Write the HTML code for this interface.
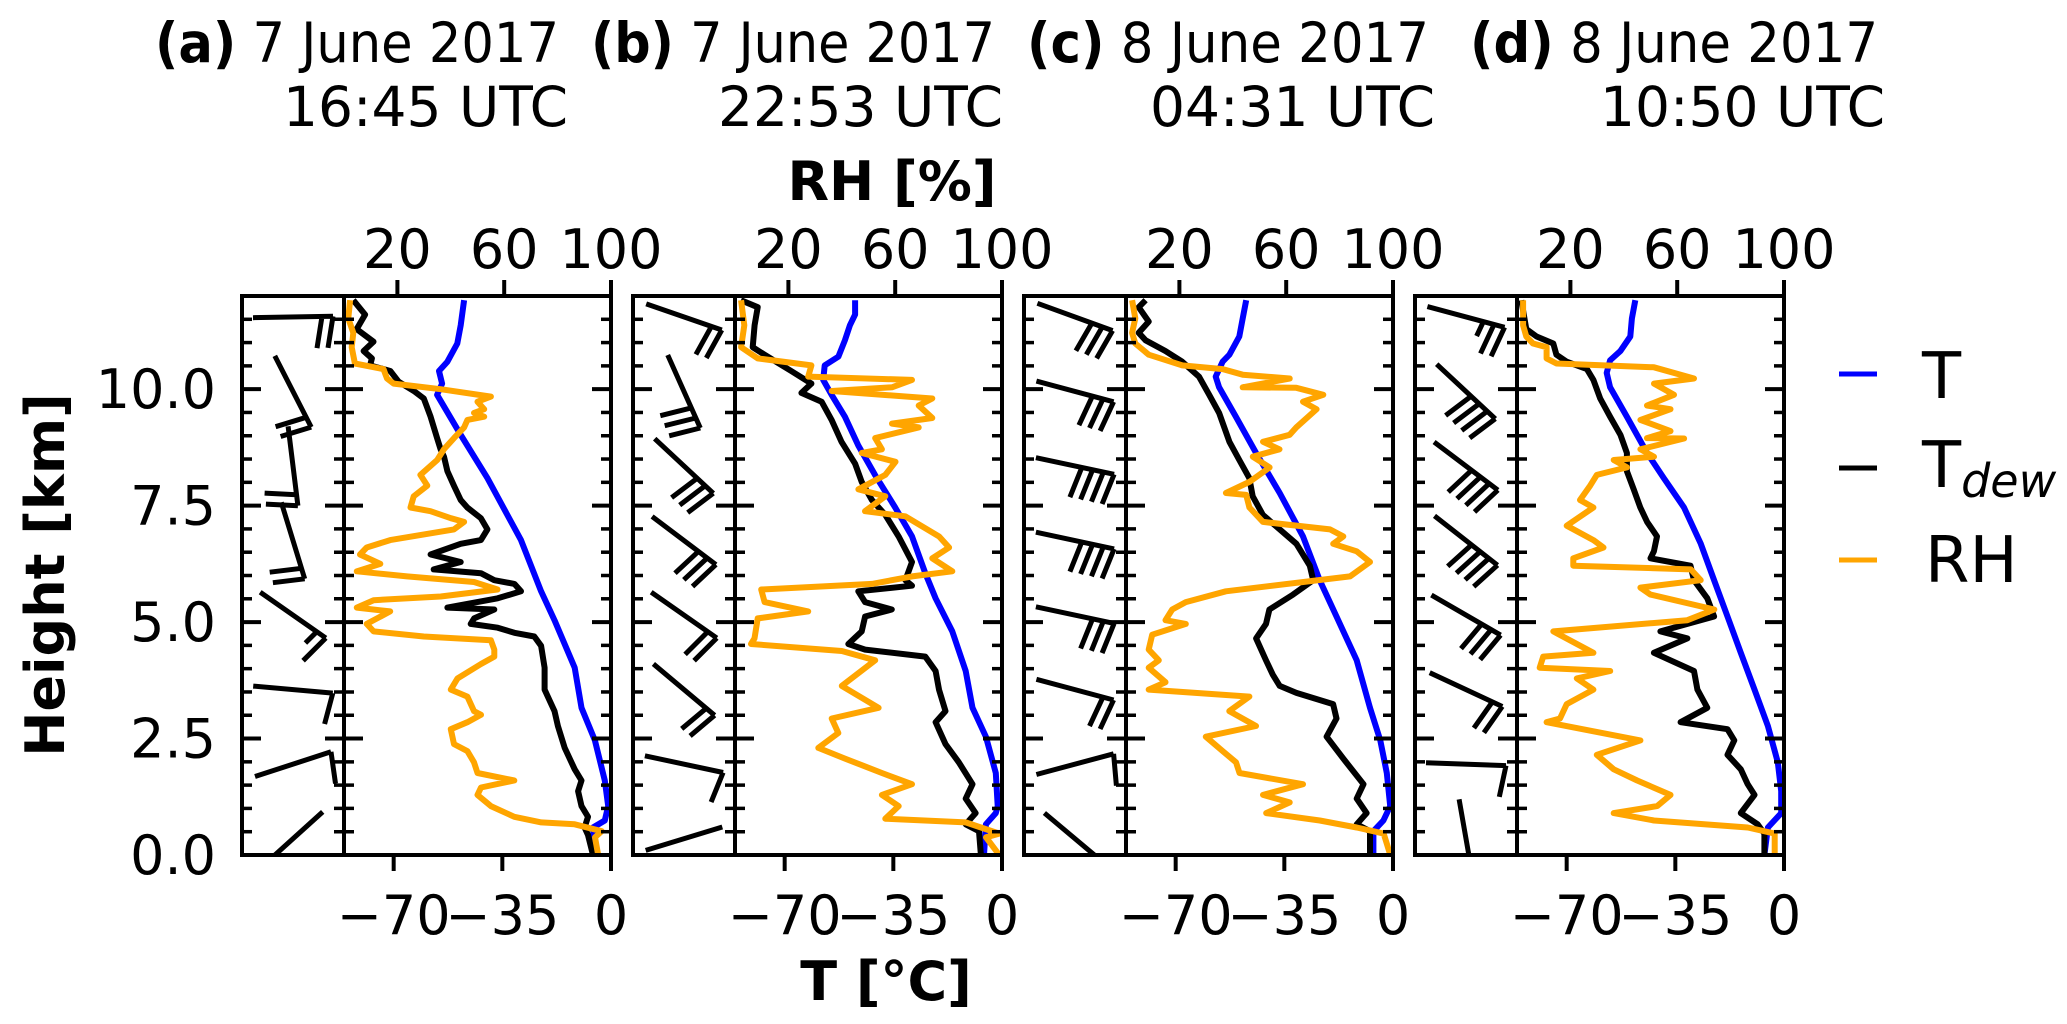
<!DOCTYPE html>
<html><head><meta charset="utf-8">
<style>
html,body{margin:0;padding:0;background:#fff;}
svg{display:block;font-family:"DejaVu Sans","Liberation Sans",sans-serif;}
</style></head>
<body>
<svg id="chart" width="2067" height="1024" viewBox="0 0 2067 1024" xmlns="http://www.w3.org/2000/svg">
  <rect width="2067" height="1024" fill="#fff"/>
  <g id="titles" font-size="55" fill="#000">
    <text x="155" y="62" textLength="404" lengthAdjust="spacingAndGlyphs"><tspan font-weight="bold">(a)</tspan> 7 June 2017</text>
    <text x="568" y="126" text-anchor="end">16:45 UTC</text>
    <text x="591" y="62" textLength="404" lengthAdjust="spacingAndGlyphs"><tspan font-weight="bold">(b)</tspan> 7 June 2017</text>
    <text x="1003" y="126" text-anchor="end">22:53 UTC</text>
    <text x="1027" y="62" textLength="402" lengthAdjust="spacingAndGlyphs"><tspan font-weight="bold">(c)</tspan> 8 June 2017</text>
    <text x="1435" y="126" text-anchor="end">04:31 UTC</text>
    <text x="1470" y="62" textLength="408" lengthAdjust="spacingAndGlyphs"><tspan font-weight="bold">(d)</tspan> 8 June 2017</text>
    <text x="1885" y="126" text-anchor="end">10:50 UTC</text>
  </g>
  <text x="892" y="200" font-size="54" font-weight="bold" text-anchor="middle">RH [%]</text>
  <text x="886" y="1000" font-size="54" font-weight="bold" text-anchor="middle">T [°C]</text>
  <text transform="translate(64,575) rotate(-90)" font-size="54" font-weight="bold" text-anchor="middle">Height [km]</text>
  <g id="panels"></g>
  <g id="legend">
    <line x1="1839" y1="374" x2="1877" y2="374" stroke="#0000ff" stroke-width="5"/>
    <text x="1922" y="398" font-size="64">T</text>
    <line x1="1839" y1="468" x2="1877" y2="468" stroke="#000" stroke-width="5"/>
    <text x="1922" y="487" font-size="64">T<tspan font-size="46" font-style="italic" dy="10">dew</tspan></text>
    <line x1="1839" y1="560" x2="1877" y2="560" stroke="#ffa500" stroke-width="5"/>
    <text x="1925" y="582" font-size="64">RH</text>
  </g>
</svg>
<script>
// ---------- data ----------
const panelIds = ['a','b','c','d'];
const rhTicks = [20, 60, 100];
const rhTickLabels = ['20', '60', '100'];
const tTicks = [-70, -35, 0];
const tTickLabels = ['\u221270', '\u221235', '0'];
const heightTicks = [0, 2.5, 5, 7.5, 10];
const heightTickLabels = ['0.0', '2.5', '5.0', '7.5', '10.0'];

// Panel (a)
const aTHeight = [11.91,11.37,10.98,10.59,10.39,10.12,9.88,9.02,8.09,6.76,5.66,5.04,4.02,3.16,2.46,1.60,1.05,0.74,0.59,0];
const aTemp = [-47.3,-48.4,-49.5,-52.7,-55.4,-54.4,-56.0,-48.4,-39.8,-29.0,-22.5,-18.2,-11.7,-9.5,-5.2,-2.0,-0.9,-2.0,-5.8,-5.2];
const aDewHeight = [11.91,11.60,11.29,11.02,10.82,10.66,10.51,10.39,10.16,9.96,9.80,9.41,8.95,8.71,8.55,8.24,7.93,7.62,7.46,7.23,6.99,6.76,6.68,6.45,6.29,6.13,6.05,5.90,5.82,5.66,5.51,5.31,5.27,5.08,4.96,4.88,4.77,4.69,4.49,4.02,3.55,3.09,2.77,2.30,1.84,1.60,1.37,1.05,0.82,0.59,0.43,0];
const aDew = [-83.0,-79.2,-81.9,-76.5,-79.7,-77.0,-77.6,-71.1,-68.4,-63.5,-60.3,-58.1,-56.0,-54.9,-53.8,-52.7,-50.6,-48.4,-46.3,-41.9,-39.8,-41.9,-48.4,-58.1,-48.4,-57.1,-41.9,-37.6,-31.1,-29.0,-36.5,-52.7,-37.6,-44.1,-45.2,-36.5,-31.1,-24.7,-22.5,-21.4,-21.4,-18.2,-17.1,-14.9,-11.7,-9.5,-10.6,-9.5,-7.4,-8.5,-7.4,-5.8];
const aRHHeight = [11.91,11.52,11.21,10.90,10.55,10.43,10.23,10.12,10.0,9.84,9.73,9.57,9.49,9.41,9.34,9.18,8.95,8.71,8.48,8.16,7.93,7.70,7.46,7.38,7.23,7.15,6.99,6.76,6.60,6.45,6.25,6.09,5.98,5.86,5.70,5.55,5.47,5.31,5.23,4.96,4.80,4.69,4.61,4.41,4.26,4.10,3.79,3.55,3.40,3.09,3.01,2.85,2.70,2.38,2.23,1.99,1.76,1.60,1.45,1.29,1.05,0.82,0.70,0.66,0.51,0.38,0];
const aRH = [2.3,1.6,3.5,2.9,4.1,14.8,16.1,18.6,36.2,55.0,50.0,52.5,48.7,52.5,46.2,45.0,41.2,37.4,34.9,28.6,31.2,26.1,24.9,32.4,40.0,45.0,41.2,17.3,8.5,6.0,13.6,4.8,23.6,48.7,57.5,36.2,11.1,4.8,17.3,8.5,11.1,29.9,55.0,56.3,56.3,51.3,42.5,40.0,46.2,48.7,51.3,46.2,40.0,41.2,46.2,48.7,50.0,63.8,51.3,50.0,55.0,63.8,73.9,86.4,96.5,94.0,95.2];

// Panel (b)
const bTHeight = [11.91,11.60,11.37,11.05,10.70,10.51,10.20,9.88,9.41,8.79,8.16,7.46,6.84,6.05,5.51,4.80,3.95,3.16,2.54,1.76,1.05,0.90,0.66,0];
const bTemp = [-47.3,-47.3,-49.0,-50.6,-52.7,-57.1,-57.6,-54.9,-50.6,-46.3,-40.9,-34.4,-29.0,-24.7,-21.4,-16.0,-11.7,-9.5,-5.2,-2.0,-1.4,-2.0,-5.2,-5.8];
const bDewHeight = [11.91,11.76,11.37,10.90,10.74,10.39,10.12,9.92,9.73,9.34,8.87,8.40,8.01,7.62,7.30,6.84,6.29,5.90,5.78,5.66,5.43,5.27,5.12,4.80,4.53,4.41,4.26,3.95,3.55,3.09,2.85,2.38,1.99,1.52,1.21,0.90,0.66,0.51,0];
const bDew = [-84.1,-78.7,-79.7,-80.3,-76.5,-67.9,-61.4,-64.6,-58.1,-54.9,-51.7,-47.3,-45.2,-41.9,-37.6,-33.3,-29.0,-31.1,-29.0,-46.3,-44.1,-35.5,-44.1,-45.2,-49.5,-44.1,-24.7,-21.4,-20.3,-18.2,-21.4,-18.2,-13.9,-9.5,-11.7,-8.5,-11.7,-7.4,-6.8];
const bRHHeight = [11.91,11.37,10.90,10.66,10.51,10.27,10.20,10.04,9.96,9.80,9.65,9.38,9.26,9.18,8.95,8.71,8.63,8.44,8.16,7.85,7.70,7.38,7.27,6.84,6.60,6.37,6.09,5.98,5.82,5.70,5.43,5.23,5.08,4.65,4.53,4.38,4.18,3.63,3.16,2.93,2.62,2.30,2.07,1.76,1.52,1.29,1.05,0.78,0.70,0.46,0.38,0];
const bRH = [2.3,3.5,2.3,8.5,28.6,27.4,66.3,58.8,36.2,73.9,68.8,73.9,58.8,68.8,52.5,55.0,47.5,60.1,56.3,46.2,56.3,48.7,63.8,76.4,80.2,73.9,81.4,66.3,51.3,9.8,11.1,27.4,8.5,7.3,6.0,40.0,52.5,40.0,53.8,36.2,38.7,31.2,41.2,55.0,66.3,55.0,61.3,56.3,86.4,99,94.0,99];

// Panel (c)
const cTHeight = [11.91,11.52,11.13,10.74,10.59,10.27,10.04,9.41,8.63,7.77,6.84,5.90,5.12,4.18,3.16,2.46,1.76,1.05,0.74,0.51,0];
const cTemp = [-47.3,-48.4,-49.5,-52.7,-54.9,-57.1,-56.0,-50.6,-44.1,-36.5,-29.0,-23.6,-18.2,-11.7,-7.4,-4.1,-2.0,-0.9,-3.1,-6.3,-6.3];
const cDewHeight = [11.91,11.76,11.45,11.21,11.05,10.82,10.59,10.27,9.88,9.49,8.87,8.48,8.09,7.70,7.30,6.99,6.68,6.21,5.90,5.59,5.27,4.96,4.65,4.18,3.87,3.63,3.48,3.24,2.93,2.54,2.07,1.52,1.21,0.90,0.66,0.51,0];
const cDew = [-79.7,-81.9,-78.7,-81.9,-79.7,-73.3,-67.9,-62.5,-59.2,-56.0,-52.7,-49.5,-46.3,-45.2,-41.9,-36.5,-31.1,-26.8,-25.7,-32.2,-39.8,-40.9,-44.1,-40.9,-38.7,-36.5,-31.1,-19.3,-18.2,-21.4,-16.0,-9.5,-11.7,-8.5,-11.7,-7.4,-7.4];
const cRHHeight = [11.91,11.52,11.21,10.98,10.74,10.51,10.43,10.31,10.23,10.04,10.03,9.88,9.73,9.57,9.18,9.02,8.87,8.71,8.55,8.32,8.01,7.77,7.73,7.46,7.15,6.99,6.84,6.68,6.52,6.29,5.98,5.66,5.43,5.27,5.04,4.96,4.73,4.41,4.18,4.02,3.71,3.55,3.40,3.09,2.77,2.54,2.23,1.99,1.76,1.52,1.29,1.13,0.90,0.74,0.59,0.46,0];
const cRH = [2.3,3.5,2.3,3.5,8.5,21.1,36.2,43.7,61.3,43.7,63.8,73.9,66.3,71.4,63.8,61.3,51.3,57.5,47.5,53.8,46.2,37.4,45.0,46.2,51.3,76.4,81.4,77.6,86.4,91.4,83.9,37.4,22.4,17.3,14.8,22.4,9.8,8.5,12.3,8.5,14.8,8.5,46.2,38.7,48.7,29.9,36.2,41.2,42.5,66.3,51.3,61.3,52.5,72.6,86.4,96.5,99];

// Panel (d)
const dTHeight = [11.91,11.52,11.13,10.82,10.62,10.35,10.04,9.41,8.63,8.09,7.46,6.68,5.90,5.12,4.34,3.55,2.77,1.99,1.37,0.90,0.59,0];
const dTemp = [-47.9,-49.0,-49.5,-52.7,-56.0,-57.1,-56.0,-50.6,-44.1,-38.7,-32.2,-26.8,-22.5,-18.2,-13.9,-9.5,-5.2,-2.0,-0.9,-0.9,-5.2,-6.3];
const dDewHeight = [11.91,11.29,11.13,10.98,10.74,10.59,10.43,10.20,9.80,9.41,9.02,8.63,8.24,7.85,7.46,7.15,6.84,6.52,6.37,6.21,5.90,5.51,5.12,4.80,4.65,4.34,3.95,3.55,3.16,2.85,2.70,2.46,2.15,1.84,1.52,1.29,0.90,0.66,0.46,0];
const dDew = [-84.6,-83.0,-79.7,-74.3,-73.3,-70.0,-63.5,-61.4,-59.2,-56.0,-52.7,-50.6,-50.6,-48.4,-46.3,-44.1,-40.9,-41.9,-43.0,-30.1,-29.0,-24.7,-22.5,-39.8,-31.1,-41.9,-29.0,-27.9,-24.7,-33.3,-18.2,-16.0,-18.2,-13.9,-11.7,-9.5,-13.9,-8.5,-6.3,-6.3];
const dRHHeight = [11.91,11.37,11.13,10.98,10.90,10.66,10.55,10.47,10.23,10.12,9.88,9.65,9.57,9.34,9.10,8.95,8.94,8.71,8.55,8.48,8.32,8.16,7.93,7.62,7.46,7.07,6.76,6.60,6.37,6.21,6.13,5.90,5.74,5.59,5.27,5.04,4.80,4.34,4.26,4.02,3.95,3.79,3.55,3.24,2.93,2.85,2.46,2.15,1.84,1.60,1.29,1.05,0.90,0.74,0.59,0.46,0];
const dRH = [2.3,2.3,3.5,6.0,11.1,11.1,14.8,51.3,66.3,51.3,58.8,48.7,57.5,46.2,57.5,48.7,62.6,46.2,51.3,36.2,41.2,29.9,27.4,23.6,28.6,18.6,28.6,32.4,21.1,21.1,65.1,68.8,46.2,50.0,73.9,63.8,13.6,28.6,9.8,8.5,34.9,22.4,28.6,18.6,16.1,11.1,46.2,29.9,36.2,45.0,57.5,52.5,36.2,51.3,86.4,96.5,96.5];

// Wind barbs (heights in km, staff direction in screen degrees, speed in knots)
const barbHeights = [11.55, 9.95, 8.35, 6.75, 5.15, 3.55, 1.95, 0.35];
const aBarbDir = [-1, 63, 83, 73, 35, 5, -18, -42];
const aBarbSpeed = [20, 20, 20, 20, 15, 10, 10, 0];
const bBarbDir = [19, 66, 43, 37, 35, 40, 12, -17];
const bBarbSpeed = [20, 30, 30, 30, 20, 20, 10, 0];
const cBarbDir = [20, 15, 12, 12, 12, 15, -15, 40];
const cBarbSpeed = [30, 30, 40, 40, 30, 20, 10, 0];
const dBarbDir = [15, 43, 37, 38, 30, 25, 2, 80];
const dBarbSpeed = [25, 40, 40, 40, 30, 20, 10, 5];

const panelData = {
  a: {tH: aTHeight, t: aTemp, dH: aDewHeight, d: aDew, rH: aRHHeight, r: aRH, bd: aBarbDir, bs: aBarbSpeed},
  b: {tH: bTHeight, t: bTemp, dH: bDewHeight, d: bDew, rH: bRHHeight, r: bRH, bd: bBarbDir, bs: bBarbSpeed},
  c: {tH: cTHeight, t: cTemp, dH: cDewHeight, d: cDew, rH: cRHHeight, r: cRH, bd: cBarbDir, bs: cBarbSpeed},
  d: {tH: dTHeight, t: dTemp, dH: dDewHeight, d: dDew, rH: dRHHeight, r: dRH, bd: dBarbDir, bs: dBarbSpeed}
};

// ---------- layout ----------
const NS = 'http://www.w3.org/2000/svg';
const TOP = 296, BOTTOM = 855, HMAX = 12, TMIN = -86, TMAX = 0;
function yOf(h){ return BOTTOM - h / HMAX * (BOTTOM - TOP); }
function mk(tag, attrs, parent){
  const e = document.createElementNS(NS, tag);
  for (const k in attrs) e.setAttribute(k, attrs[k]);
  parent.appendChild(e);
  return e;
}
const root = document.getElementById('panels');

panelIds.forEach((pid, i) => {
  const barbL = 242 + 391 * i, spine = 344 + 391 * i, right = 611 + 391 * i;
  const W = right - spine;
  const xT = T => spine + (T - TMIN) / (TMAX - TMIN) * W;
  const xRH = r => spine + r / 100 * W;
  const pd = panelData[pid];

  const g = mk('g', {}, root);
  
  

  const defs = mk('defs', {}, g);
  const cp = mk('clipPath', {id: 'clip-prof-' + pid}, defs);
  mk('rect', {x: spine, y: TOP, width: W, height: BOTTOM - TOP}, cp);
  const cb = mk('clipPath', {id: 'clip-barb-' + pid}, defs);
  mk('rect', {x: barbL, y: TOP, width: spine - barbL, height: BOTTOM - TOP}, cb);

  const series = [
    {name: 'temperature-line', H: pd.tH, V: pd.t, fx: xT, color: '#0000ff'},
    {name: 'dewpoint-line', H: pd.dH, V: pd.d, fx: xT, color: '#000000'},
    {name: 'rh-line', H: pd.rH, V: pd.r, fx: xRH, color: '#ffa500'}
  ];
  const sg = mk('g', {'clip-path': 'url(#clip-prof-' + pid + ')'}, g);
  series.forEach(s => {
    const pts = s.H.map((h, k) => s.fx(s.V[k]).toFixed(1) + ',' + yOf(h).toFixed(1)).join(' ');
    const pl = mk('polyline', {points: pts, fill: 'none', stroke: s.color, 'stroke-width': 6, 'stroke-linejoin': 'round'}, sg);
    
    
  });

  const bg = mk('g', {'clip-path': 'url(#clip-barb-' + pid + ')', stroke: '#000', 'stroke-width': 5, 'stroke-linecap': 'butt', fill: 'none'}, g);
  const L = 80, FL = 32, SP = 11;
  barbHeights.forEach((h, k) => {
    const th = pd.bd[k] * Math.PI / 180;
    const dx = Math.cos(th), dy = Math.sin(th);
    const cx = barbL + 51, cy = yOf(h);
    const x0 = cx - dx * L / 2, y0 = cy - dy * L / 2, x1 = cx + dx * L / 2, y1 = cy + dy * L / 2;
    const rot = 100 * Math.PI / 180;
    const fx = dx * Math.cos(rot) - dy * Math.sin(rot), fy = dx * Math.sin(rot) + dy * Math.cos(rot);
    let d = 'M' + x0.toFixed(1) + ',' + y0.toFixed(1) + 'L' + x1.toFixed(1) + ',' + y1.toFixed(1);
    const full = Math.floor(pd.bs[k] / 10), half = (pd.bs[k] % 10) >= 5 ? 1 : 0;
    let pos = 0;
    for (let n = 0; n < full; n++, pos++) {
      const bx = x1 - dx * SP * pos, by = y1 - dy * SP * pos;
      d += 'M' + bx.toFixed(1) + ',' + by.toFixed(1) + 'L' + (bx + fx * FL).toFixed(1) + ',' + (by + fy * FL).toFixed(1);
    }
    if (half) {
      if (pos === 0) pos = 1;
      const bx = x1 - dx * SP * pos, by = y1 - dy * SP * pos;
      d += 'M' + bx.toFixed(1) + ',' + by.toFixed(1) + 'L' + (bx + fx * FL / 2).toFixed(1) + ',' + (by + fy * FL / 2).toFixed(1);
    }
    const p = mk('path', {d: d}, bg);
    
    
  });

  const tg = mk('g', {stroke: '#000'}, g);
  for (let m = 1; m < 24; m++) {
    const h = m * 0.5, y = yOf(h);
    const major = (m % 5 === 0);
    const len = major ? 19 : 10;
    const w = major ? 4 : 3.5;
    mk('line', {x1: barbL, y1: y, x2: barbL + len, y2: y, 'stroke-width': w}, tg);
    mk('line', {x1: spine - len, y1: y, x2: spine + len, y2: y, 'stroke-width': w}, tg);
    mk('line', {x1: right - len, y1: y, x2: right, y2: y, 'stroke-width': w}, tg);
  }
  rhTicks.forEach(r => {
    mk('line', {x1: xRH(r), y1: TOP, x2: xRH(r), y2: TOP - 16, 'stroke-width': 4}, tg);
  });
  tTicks.forEach(T => {
    mk('line', {x1: xT(T), y1: BOTTOM, x2: xT(T), y2: BOTTOM + 16, 'stroke-width': 4}, tg);
  });

  const ax1 = mk('rect', {x: barbL, y: TOP, width: spine - barbL, height: BOTTOM - TOP, fill: 'none', stroke: '#000', 'stroke-width': 4}, g);
  
  
  const ax2 = mk('rect', {x: spine, y: TOP, width: W, height: BOTTOM - TOP, fill: 'none', stroke: '#000', 'stroke-width': 4}, g);
  
  

  rhTicks.forEach((r, k) => {
    const t = mk('text', {x: xRH(r), y: 268, 'font-size': 54, 'text-anchor': 'middle'}, g);
    t.textContent = rhTickLabels[k];
    
    
  });
  tTicks.forEach((T, k) => {
    const t = mk('text', {x: xT(T), y: 934, 'font-size': 54, 'text-anchor': 'middle'}, g);
    t.textContent = tTickLabels[k];
    
    
  });
  if (i === 0) {
    heightTicks.forEach((h, k) => {
      const t = mk('text', {x: 216, y: yOf(h) + 19, 'font-size': 54, 'text-anchor': 'end'}, g);
      t.textContent = heightTickLabels[k];
      
      
    });
  }
});
</script>
</body></html>
